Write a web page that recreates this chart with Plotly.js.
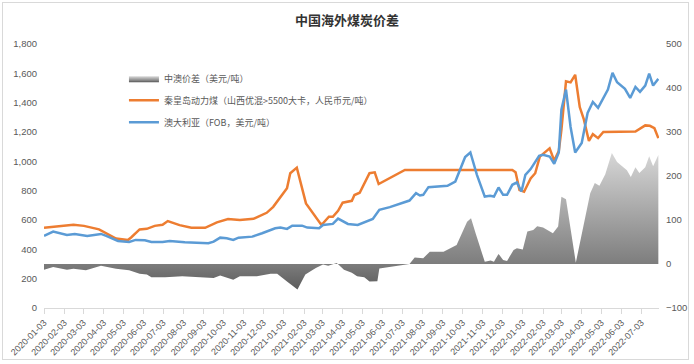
<!DOCTYPE html>
<html>
<head>
<meta charset="utf-8">
<script src="https://cdn.plot.ly/plotly-3.0.1.min.js"></script>
<style>
  html, body { margin: 0; padding: 0; background: #fff; }
  #wrap { position: relative; width: 694px; height: 364px; }
  #chart { width: 694px; height: 364px; }
  #frame { position: absolute; left: 2px; top: 2px; width: 685px; height: 356px; border: 1px solid #d9d9d9; pointer-events: none; }
</style>
</head>
<body>
<div id="wrap"><div id="chart"></div><div id="frame"></div></div>
<script>
// ---- Data ----
const chartTitle = "中国海外煤炭价差";
const seriesNames = ["中澳价差（美元/吨）", "秦皇岛动力煤（山西优混>5500大卡，人民币元/吨）", "澳大利亚（FOB，美元/吨）"];

// 秦皇岛动力煤 (left axis, RMB/t)
const qhdDates = ["2020-01-03","2020-01-17","2020-02-17","2020-03-04","2020-03-27","2020-04-22","2020-05-10","2020-05-15","2020-05-28","2020-06-08","2020-06-20","2020-07-02","2020-07-10","2020-07-28","2020-08-15","2020-09-05","2020-09-23","2020-10-10","2020-10-28","2020-11-18","2020-11-23","2020-12-08","2020-12-18","2021-01-08","2021-01-13","2021-01-23","2021-02-06","2021-03-01","2021-03-04","2021-03-13","2021-03-19","2021-03-27","2021-04-03","2021-04-17","2021-04-21","2021-04-29","2021-05-14","2021-05-22","2021-05-28","2021-07-07","2021-12-18","2021-12-23","2021-12-29","2022-01-05","2022-01-15","2022-01-22","2022-01-29","2022-02-08","2022-02-13","2022-02-20","2022-02-27","2022-03-03","2022-03-10","2022-03-17","2022-03-24","2022-03-31","2022-04-06","2022-04-14","2022-04-20","2022-04-28","2022-05-06","2022-06-24","2022-07-09","2022-07-16","2022-07-23","2022-07-29"];
const qhdValues = [547,552,567,560,536,474,463,481,536,540,560,567,593,565,547,547,584,606,600,608,618,649,690,816,919,957,713,570,577,622,622,663,718,731,770,786,919,925,845,941,941,925,804,793,884,919,1032,1066,1089,1005,1070,1215,1545,1538,1590,1370,1290,1139,1185,1158,1200,1203,1245,1242,1226,1158];

// 澳大利亚 FOB (right axis, USD/t)
const ausDates = ["2020-01-03","2020-01-17","2020-02-07","2020-02-19","2020-03-09","2020-03-30","2020-04-07","2020-04-25","2020-05-12","2020-05-22","2020-06-05","2020-06-15","2020-07-02","2020-07-13","2020-08-05","2020-08-26","2020-09-10","2020-09-18","2020-09-28","2020-10-08","2020-10-18","2020-10-26","2020-11-16","2020-12-01","2020-12-21","2020-12-29","2021-01-08","2021-01-16","2021-01-31","2021-02-08","2021-02-26","2021-03-04","2021-03-19","2021-03-27","2021-04-11","2021-04-26","2021-05-06","2021-05-19","2021-05-29","2021-06-14","2021-07-14","2021-07-24","2021-07-30","2021-08-04","2021-08-12","2021-09-10","2021-09-22","2021-10-07","2021-10-15","2021-10-25","2021-11-06","2021-11-14","2021-11-20","2021-11-27","2021-12-04","2021-12-10","2021-12-18","2021-12-25","2022-01-01","2022-01-07","2022-01-15","2022-01-28","2022-02-03","2022-02-13","2022-02-20","2022-02-27","2022-03-03","2022-03-10","2022-03-17","2022-03-24","2022-04-03","2022-04-12","2022-04-20","2022-04-28","2022-05-13","2022-05-20","2022-05-27","2022-06-08","2022-06-16","2022-06-24","2022-07-01","2022-07-09","2022-07-15","2022-07-21","2022-07-29"];
const ausValues = [64,73.6,66,68.3,63.8,68.3,63.8,52.4,50.1,54.7,54,50.1,50.1,52.4,49.4,47.1,47.1,50.8,59.9,58.5,54.7,59.9,62.2,69.9,81.3,82.7,79.7,87.2,87.2,82.7,81.3,88.8,91.1,103.2,91.1,88.8,94.1,102.5,123,129.2,144.2,161,155.6,157.2,174.7,177.7,187.5,243,253.5,202.7,153.3,154.9,153.3,173.8,157.2,157.2,180,185.2,164.7,202.7,215.7,246,248.3,244.4,227.8,253.5,350.8,396.4,311.4,253.5,274.9,343.3,368.3,354.7,396.4,434.4,413,398,377.4,402.5,391.1,405.5,432.8,405.5,420.7];

// 中澳价差 (right axis, USD/t)
const spreadDates = ["2020-01-03","2020-01-17","2020-02-07","2020-02-17","2020-03-07","2020-03-30","2020-04-22","2020-05-12","2020-05-28","2020-06-08","2020-06-15","2020-07-06","2020-08-01","2020-08-26","2020-09-18","2020-09-28","2020-10-18","2020-10-28","2020-11-23","2020-12-14","2020-12-24","2021-01-08","2021-01-24","2021-02-05","2021-02-21","2021-03-04","2021-03-12","2021-03-25","2021-04-05","2021-04-17","2021-04-25","2021-05-06","2021-05-14","2021-05-26","2021-05-29","2021-07-14","2021-07-22","2021-08-04","2021-08-14","2021-09-04","2021-09-24","2021-10-10","2021-10-16","2021-10-23","2021-11-06","2021-11-15","2021-11-20","2021-11-27","2021-12-04","2021-12-10","2021-12-20","2021-12-25","2022-01-03","2022-01-10","2022-01-19","2022-01-25","2022-02-03","2022-02-18","2022-02-26","2022-03-03","2022-03-10","2022-03-25","2022-04-06","2022-04-16","2022-04-23","2022-04-30","2022-05-09","2022-05-19","2022-05-27","2022-06-11","2022-06-17","2022-06-24","2022-06-30","2022-07-09","2022-07-15","2022-07-21","2022-07-29"];
const spreadValues = [-13,-7,-13,-11,-14,-4,-11,-14,-22,-24,-30,-30,-28,-30,-32,-26,-36,-28,-28,-22,-22,-40,-58,-24,-9,-1,-4,2,-13,-20,-28,-30,-40,-39,-10,0,15,13,28,28,43,96,104,70,5,8,5,23,9,7,32,36,33,74,77,86,83,70,85,153,147,3,92,161,184,178,204,252,232,213,198,220,207,220,245,222,248];

// Axis settings
const leftRange = [0, 1800];
const rightRange = [-100, 500];
const xStart = "2020-01-03";
const xEnd = "2022-07-30";

const tickColor = "#595959";
const numFont = "Liberation Sans, Arial, sans-serif";
const cjkFont = "Noto Sans CJK SC, Liberation Sans, sans-serif";

const traces = [
  {
    name: seriesNames[0], x: spreadDates, y: spreadValues, yaxis: "y2",
    type: "scatter", mode: "lines", line: {width: 0, color: "#8c8c8c"},
    fill: "tozeroy",
    fillgradient: {type: "vertical", start: -80, stop: 260,
      colorscale: [[0, "#505050"], [0.25, "#7f7f7f"], [1, "#d9d9d9"]]},
    legendgroup: "a", hoverinfo: "skip"
  },
  {
    name: seriesNames[1], x: qhdDates, y: qhdValues, yaxis: "y",
    type: "scatter", mode: "lines", line: {width: 2.5, color: "#ED7D31"},
    legendgroup: "b"
  },
  {
    name: seriesNames[2], x: ausDates, y: ausValues, yaxis: "y2",
    type: "scatter", mode: "lines", line: {width: 2.5, color: "#5B9BD5"},
    legendgroup: "c"
  }
];

const layout = {
  width: 694, height: 364,
  margin: {l: 44, r: 35, t: 44, b: 56, pad: 0},
  paper_bgcolor: "#ffffff", plot_bgcolor: "#ffffff",
  title: {text: "<b>" + chartTitle + "</b>", x: 0.5, xref: "container", y: 0.945, yref: "container", yanchor: "middle",
          font: {family: cjkFont, size: 13, color: "#333333"}},
  showlegend: true,
  legend: {x: 0.13, xanchor: "left", y: 0.925, yanchor: "top", bgcolor: "rgba(0,0,0,0)",
           font: {family: cjkFont, size: 9, color: tickColor}, tracegroupgap: 3, traceorder: "grouped"},
  xaxis: {type: "date", range: [xStart, xEnd], tick0: xStart, dtick: "M1", tickformat: "%Y-%m-%d",
          tickangle: -45, ticks: "outside", ticklen: 5, tickcolor: "#d9d9d9",
          showline: true, linecolor: "#d9d9d9", linewidth: 1, showgrid: false, zeroline: false,
          tickfont: {family: numFont, size: 9, color: tickColor}},
  yaxis: {range: leftRange, dtick: 200, tickformat: ",d", showgrid: false, zeroline: false, showline: false,
          ticks: "", ticklabelstandoff: 6, tickfont: {family: numFont, size: 9.5, color: tickColor}},
  yaxis2: {range: rightRange, dtick: 100, overlaying: "y", side: "right", showgrid: false, zeroline: false,
           showline: false, ticks: "", ticklabelstandoff: 6, tickfont: {family: numFont, size: 9.5, color: tickColor}}
};

Plotly.newPlot("chart", traces, layout, {displayModeBar: false, staticPlot: true});
</script>
</body>
</html>
